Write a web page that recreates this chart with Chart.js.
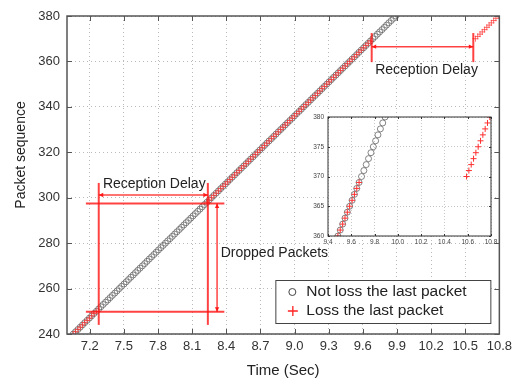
<!DOCTYPE html>
<html>
<head>
<meta charset="utf-8">
<script src="https://cdn.jsdelivr.net/npm/chart.js@4.4.0/dist/chart.umd.min.js"></script>
<style>
  body { margin: 0; background: #fff; }
  #wrap { position: relative; width: 517px; height: 383px; }
  #inset { position: absolute; left: 300px; top: 105px; }
</style>
</head>
<body>
<div id="wrap">
  <canvas id="main" width="517" height="383"></canvas>
  <canvas id="inset" width="200" height="145"></canvas>
</div>
<script>
"use strict";

// packet sequence numbers and arrival times (sec)
const not_loss_seq = [
  240, 241, 242, 243, 244, 245, 246, 247, 248, 249,
  250, 251, 252, 253, 254, 255, 256, 257, 258, 259,
  260, 261, 262, 263, 264, 265, 266, 267, 268, 269,
  270, 271, 272, 273, 274, 275, 276, 277, 278, 279,
  280, 281, 282, 283, 284, 285, 286, 287, 288, 289,
  290, 291, 292, 293, 294, 295, 296, 297, 298, 299,
  300, 301, 302, 303, 304, 305, 306, 307, 308, 309,
  310, 311, 312, 313, 314, 315, 316, 317, 318, 319,
  320, 321, 322, 323, 324, 325, 326, 327, 328, 329,
  330, 331, 332, 333, 334, 335, 336, 337, 338, 339,
  340, 341, 342, 343, 344, 345, 346, 347, 348, 349,
  350, 351, 352, 353, 354, 355, 356, 357, 358, 359,
  360, 361, 362, 363, 364, 365, 366, 367, 368, 369,
  370, 371, 372, 373, 374, 375, 376, 377, 378, 379,
  380
];
const not_loss_time = [
  7.055, 7.075, 7.096, 7.116, 7.136, 7.156, 7.177, 7.197, 7.217, 7.237,
  7.258, 7.278, 7.298, 7.318, 7.339, 7.359, 7.379, 7.399, 7.420, 7.440,
  7.460, 7.480, 7.501, 7.521, 7.541, 7.561, 7.582, 7.602, 7.622, 7.642,
  7.663, 7.683, 7.703, 7.723, 7.744, 7.764, 7.784, 7.804, 7.825, 7.845,
  7.865, 7.885, 7.906, 7.926, 7.946, 7.966, 7.987, 8.007, 8.027, 8.047,
  8.068, 8.088, 8.108, 8.128, 8.149, 8.169, 8.189, 8.209, 8.230, 8.250,
  8.270, 8.290, 8.311, 8.331, 8.351, 8.371, 8.392, 8.412, 8.432, 8.452,
  8.473, 8.493, 8.513, 8.533, 8.554, 8.574, 8.594, 8.614, 8.635, 8.655,
  8.675, 8.695, 8.716, 8.736, 8.756, 8.776, 8.797, 8.817, 8.837, 8.857,
  8.878, 8.898, 8.918, 8.938, 8.959, 8.979, 8.999, 9.019, 9.040, 9.060,
  9.080, 9.100, 9.121, 9.141, 9.161, 9.181, 9.202, 9.222, 9.242, 9.262,
  9.283, 9.303, 9.323, 9.343, 9.364, 9.384, 9.404, 9.424, 9.445, 9.465,
  9.485, 9.505, 9.526, 9.546, 9.566, 9.586, 9.607, 9.627, 9.647, 9.667,
  9.688, 9.708, 9.728, 9.748, 9.769, 9.789, 9.809, 9.829, 9.850, 9.870,
  9.890
];

const loss_seq = [
  240, 241, 242, 243, 244, 245, 246, 247, 248, 249, 250,
  298, 299,
  300, 301, 302, 303, 304, 305, 306, 307, 308, 309,
  310, 311, 312, 313, 314, 315, 316, 317, 318, 319,
  320, 321, 322, 323, 324, 325, 326, 327, 328, 329,
  330, 331, 332, 333, 334, 335, 336, 337, 338, 339,
  340, 341, 342, 343, 344, 345, 346, 347, 348, 349,
  350, 351, 352, 353, 354, 355, 356, 357, 358, 359,
  360, 361, 362, 363, 364, 365, 366, 367, 368, 369,
  370, 371, 372, 373, 374, 375, 376, 377, 378, 379, 380
];
const loss_time = [
  7.055, 7.075, 7.096, 7.116, 7.136, 7.156, 7.177, 7.197, 7.217, 7.237, 7.258,
  8.230, 8.250,
  8.270, 8.290, 8.311, 8.331, 8.351, 8.371, 8.392, 8.412, 8.432, 8.452,
  8.473, 8.493, 8.513, 8.533, 8.554, 8.574, 8.594, 8.614, 8.635, 8.655,
  8.675, 8.695, 8.716, 8.736, 8.756, 8.776, 8.797, 8.817, 8.837, 8.857,
  8.878, 8.898, 8.918, 8.938, 8.959, 8.979, 8.999, 9.019, 9.040, 9.060,
  9.080, 9.100, 9.121, 9.141, 9.161, 9.181, 9.202, 9.222, 9.242, 9.262,
  9.283, 9.303, 9.323, 9.343, 9.364, 9.384, 9.404, 9.424, 9.445, 9.465,
  9.485, 9.505, 9.526, 9.546, 9.566, 9.586, 9.607, 9.627, 9.647, 9.667,
  10.590, 10.610, 10.630, 10.650, 10.670, 10.690, 10.710, 10.730, 10.750, 10.770, 10.790
];

const series_labels = ["Not loss the last packet", "Loss the last packet"];

const main_x_ticks = [7.2, 7.5, 7.8, 8.1, 8.4, 8.7, 9.0, 9.3, 9.6, 9.9, 10.2, 10.5, 10.8];
const main_y_ticks = [240, 260, 280, 300, 320, 340, 360, 380];
const inset_x_ticks = [9.4, 9.6, 9.8, 10.0, 10.2, 10.4, 10.6, 10.8];
const inset_y_ticks = [360, 365, 370, 375, 380];

// annotations, in data units (time, sequence)
const annot_lines = [
  [7.279, 306.5, 7.279, 244.0],
  [8.238, 306.5, 8.238, 244.0],
  [7.166, 297.5, 8.383, 297.5],
  [7.166, 249.8, 8.383, 249.8],
  [9.678, 372.5, 9.678, 359.7],
  [10.571, 372.5, 10.571, 359.7]
];
const annot_arrows = [
  [7.279, 301.2, 8.238, 301.2],
  [8.319, 297.5, 8.319, 249.8],
  [9.678, 366.5, 10.571, 366.5]
];
const annot_texts = [
  ["Reception Delay", 7.767, 306.0, "center"],
  ["Dropped Packets", 8.351, 275.7, "left"],
  ["Reception Delay", 10.16, 356.2, "center"]
];

const FONT = "'Liberation Sans', Arial, sans-serif";
Chart.defaults.font.family = FONT;
Chart.defaults.color = "#333";

function to_points(times, seqs) {
  return times.map((t, i) => ({ x: t, y: seqs[i] }));
}

function set_ticks(list) {
  return (axis) => {
    axis.ticks = list.map((v) => ({ value: v }));
  };
}

// box round the plot area with short inward ticks on all four sides
const frame_plugin = {
  id: "frame",
  beforeDraw(chart, args, opts) {
    if (!opts.fill) return;
    const { ctx, chartArea: a } = chart;
    ctx.save();
    ctx.fillStyle = opts.fill;
    ctx.fillRect(a.left, a.top, a.right - a.left, a.bottom - a.top);
    ctx.restore();
  },
  afterDatasetsDraw(chart, args, opts) {
    const { ctx, chartArea: a, scales } = chart;
    ctx.save();
    ctx.strokeStyle = opts.color;
    ctx.lineWidth = 1;
    ctx.beginPath();
    scales.x.ticks.forEach((t) => {
      const px = Math.round(scales.x.getPixelForValue(t.value)) + 0.5;
      ctx.moveTo(px, a.bottom);
      ctx.lineTo(px, a.bottom - opts.tick);
      ctx.moveTo(px, a.top);
      ctx.lineTo(px, a.top + opts.tick);
    });
    scales.y.ticks.forEach((t) => {
      const py = Math.round(scales.y.getPixelForValue(t.value)) + 0.5;
      ctx.moveTo(a.left, py);
      ctx.lineTo(a.left + opts.tick, py);
      ctx.moveTo(a.right, py);
      ctx.lineTo(a.right - opts.tick, py);
    });
    ctx.stroke();
    ctx.lineWidth = opts.width;
    ctx.strokeRect(a.left, a.top, a.right - a.left, a.bottom - a.top);
    ctx.restore();
  }
};

function arrow_head(ctx, x0, y0, x1, y1) {
  const ang = Math.atan2(y1 - y0, x1 - x0);
  const len = 5;
  ctx.beginPath();
  ctx.moveTo(x1, y1);
  ctx.lineTo(x1 - len * Math.cos(ang - 0.45), y1 - len * Math.sin(ang - 0.45));
  ctx.lineTo(x1 - len * Math.cos(ang + 0.45), y1 - len * Math.sin(ang + 0.45));
  ctx.closePath();
  ctx.fill();
}

// red annotation marks, texts, y title and the boxed legend
const annot_plugin = {
  id: "annot",
  afterDraw(chart) {
    const { ctx, chartArea: a, scales: { x, y } } = chart;
    ctx.save();
    ctx.strokeStyle = "rgba(255, 20, 20, 0.8)";
    ctx.fillStyle = "rgba(255, 20, 20, 0.95)";
    ctx.lineWidth = 2;
    annot_lines.forEach(([x0, y0, x1, y1]) => {
      ctx.beginPath();
      ctx.moveTo(x.getPixelForValue(x0), y.getPixelForValue(y0));
      ctx.lineTo(x.getPixelForValue(x1), y.getPixelForValue(y1));
      ctx.stroke();
    });
    ctx.lineWidth = 1.5;
    annot_arrows.forEach(([x0, y0, x1, y1]) => {
      const p0 = [x.getPixelForValue(x0), y.getPixelForValue(y0)];
      const p1 = [x.getPixelForValue(x1), y.getPixelForValue(y1)];
      ctx.beginPath();
      ctx.moveTo(p0[0], p0[1]);
      ctx.lineTo(p1[0], p1[1]);
      ctx.stroke();
      arrow_head(ctx, p0[0], p0[1], p1[0], p1[1]);
      arrow_head(ctx, p1[0], p1[1], p0[0], p0[1]);
    });

    ctx.fillStyle = "#222";
    ctx.font = "14px " + FONT;
    ctx.textBaseline = "middle";
    annot_texts.forEach(([txt, tx, ty, align]) => {
      ctx.textAlign = align;
      ctx.fillText(txt, x.getPixelForValue(tx), y.getPixelForValue(ty));
    });

    // y axis title
    ctx.save();
    ctx.translate(21, 155);
    ctx.rotate(-Math.PI / 2);
    ctx.textAlign = "center";
    ctx.font = "14px " + FONT;
    ctx.fillStyle = "#222";
    ctx.fillText("Packet sequence", 0, 0);
    ctx.restore();

    // legend
    const lw = 215, lh = 43;
    const lx = a.right - 9 - lw, ly = a.bottom - 11 - lh;
    ctx.fillStyle = "#fff";
    ctx.fillRect(lx, ly, lw, lh);
    ctx.strokeStyle = "#444";
    ctx.lineWidth = 1;
    ctx.strokeRect(lx + 0.5, ly + 0.5, lw, lh);
    ctx.font = "15.5px " + FONT;
    ctx.fillStyle = "#222";
    ctx.textAlign = "left";
    ctx.fillText(series_labels[0], lx + 31, ly + 12);
    ctx.fillText(series_labels[1], lx + 31, ly + 31);
    ctx.strokeStyle = "#444";
    ctx.beginPath();
    ctx.arc(lx + 17, ly + 12, 3.5, 0, Math.PI * 2);
    ctx.stroke();
    ctx.strokeStyle = "#ff2020";
    ctx.lineWidth = 1.3;
    ctx.beginPath();
    ctx.moveTo(lx + 12.5, ly + 31);
    ctx.lineTo(lx + 22.5, ly + 31);
    ctx.moveTo(lx + 17.5, ly + 26);
    ctx.lineTo(lx + 17.5, ly + 36);
    ctx.stroke();
    ctx.restore();
  }
};

function make_datasets(circle_r, cross_r, cross_color) {
  return [
    {
      label: series_labels[0],
      data: to_points(not_loss_time, not_loss_seq),
      pointStyle: "circle",
      pointRadius: circle_r,
      pointBorderWidth: 0.8,
      pointBorderColor: "#666",
      pointBackgroundColor: "rgba(0,0,0,0)",
      order: 1
    },
    {
      label: series_labels[1],
      data: to_points(loss_time, loss_seq),
      pointStyle: "cross",
      pointRadius: cross_r,
      pointBorderWidth: 1,
      pointBorderColor: cross_color,
      order: 0
    }
  ];
}

new Chart(document.getElementById("main"), {
  type: "scatter",
  data: { datasets: make_datasets(3, 3, "rgba(255, 50, 50, 0.7)") },
  options: {
    responsive: false,
    animation: false,
    devicePixelRatio: 1,
    layout: { padding: { left: 0, top: 16, right: 14, bottom: 0 } },
    plugins: {
      legend: { display: false },
      tooltip: { enabled: false },
      frame: { color: "#555", width: 1.5, tick: 5 }
    },
    scales: {
      x: {
        type: "linear",
        min: 7.0,
        max: 10.8,
        afterBuildTicks: set_ticks(main_x_ticks),
        afterFit: (s) => { s.height = 49; },
        ticks: { padding: 5, font: { size: 13 }, color: "#333", maxRotation: 0,
                 callback: (v) => Number(v).toFixed(1) },
        grid: { color: "#bbb", lineWidth: 1, drawTicks: false },
        border: { display: false, dash: [1, 3] },
        title: { display: true, text: "Time (Sec)", font: { size: 15 }, color: "#222",
                 padding: { top: 0, bottom: 3 } }
      },
      y: {
        type: "linear",
        min: 240,
        max: 380,
        afterBuildTicks: set_ticks(main_y_ticks),
        afterFit: (s) => { s.width = 67; },
        ticks: { padding: 7, font: { size: 13 }, color: "#333" },
        grid: { color: "#bbb", lineWidth: 1, drawTicks: false },
        border: { display: false, dash: [1, 3] }
      }
    }
  },
  plugins: [frame_plugin, annot_plugin]
});

new Chart(document.getElementById("inset"), {
  type: "scatter",
  data: { datasets: make_datasets(3, 3, "#ff3030") },
  options: {
    responsive: false,
    animation: false,
    devicePixelRatio: 1,
    layout: { padding: { left: 0, top: 12, right: 9, bottom: 0 } },
    plugins: {
      legend: { display: false },
      tooltip: { enabled: false },
      frame: { color: "#333", width: 1, tick: 2, fill: "#fff" }
    },
    scales: {
      x: {
        type: "linear",
        min: 9.4,
        max: 10.8,
        afterBuildTicks: set_ticks(inset_x_ticks),
        afterFit: (s) => { s.height = 14; },
        ticks: { padding: 2, font: { size: 6.5 }, color: "#444", maxRotation: 0,
                 callback: (v) => Number(v).toFixed(1) },
        grid: { color: "#c8c8c8", lineWidth: 1, drawTicks: false },
        border: { display: false, dash: [1, 2] }
      },
      y: {
        type: "linear",
        min: 360,
        max: 380,
        afterBuildTicks: set_ticks(inset_y_ticks),
        afterFit: (s) => { s.width = 28; },
        ticks: { padding: 4, font: { size: 6.5 }, color: "#444" },
        grid: { color: "#c8c8c8", lineWidth: 1, drawTicks: false },
        border: { display: false, dash: [1, 2] }
      }
    }
  },
  plugins: [frame_plugin]
});
</script>
</body>
</html>
